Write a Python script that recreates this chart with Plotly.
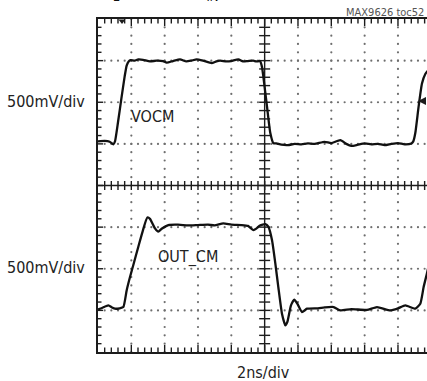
import plotly.graph_objects as go

# ---------------- data (time in ns, screen voltage in V; 2 ns/div, 0.5 V/div) ----------------
time_vocm_ns = [0.0, 0.4, 0.7, 0.92, 1.02, 1.2, 1.4, 1.6, 1.72, 1.84, 1.96, 2.2, 2.42, 2.7,
                3.12, 3.5, 3.9, 4.12, 4.5, 4.92, 5.3, 5.6, 5.92, 6.3, 6.82, 7.1, 7.32, 7.7,
                8.0, 8.42, 8.7, 9.0, 9.32, 9.5, 9.72, 9.84, 9.92, 10.14, 10.34, 10.52, 10.7,
                11.0, 11.4, 11.8, 12.2, 12.6, 13.0, 13.6, 14.0, 14.54, 14.9, 15.2, 15.6,
                16.0, 16.4, 16.8, 17.2, 17.6, 18.0, 18.4, 18.8, 18.92, 19.04, 19.24, 19.44,
                19.64, 19.8]
vocm_v = [0.53, 0.535, 0.525, 0.495, 0.53, 0.76, 1.04, 1.31, 1.44, 1.49, 1.505, 1.50, 1.515, 1.51,
          1.49, 1.50, 1.495, 1.475, 1.495, 1.515, 1.49, 1.50, 1.515, 1.50, 1.47, 1.49, 1.50, 1.49,
          1.495, 1.515, 1.49, 1.495, 1.50, 1.49, 1.495, 1.425, 1.31, 0.95, 0.63, 0.51, 0.505,
          0.49, 0.485, 0.50, 0.495, 0.505, 0.50, 0.525, 0.51, 0.545, 0.50, 0.475, 0.49,
          0.505, 0.495, 0.50, 0.485, 0.50, 0.51, 0.495, 0.505, 0.53, 0.63, 0.95, 1.225,
          1.34, 1.38]

time_out_ns = [0.0, 0.3, 0.62, 0.84, 1.02, 1.3, 1.52, 1.72, 1.92, 2.12, 2.42, 2.7, 2.96, 3.12,
               3.42, 3.62, 3.82, 4.22, 4.8, 5.4, 6.0, 6.6, 7.0, 7.52, 8.0, 8.6, 9.0, 9.32,
               9.52, 9.72, 10.04, 10.22, 10.44, 10.64, 10.82, 11.04, 11.24, 11.36, 11.58,
               11.78, 11.96, 12.24, 12.54, 13.2, 13.6, 14.14, 14.54, 15.2, 16.14, 16.74,
               17.54, 18.0, 18.44, 19.04, 19.34, 19.54, 19.74, 19.8]
outcm_v = [-1.49, -1.465, -1.44, -1.465, -1.48, -1.475, -1.46, -1.26, -1.10, -0.955, -0.735,
           -0.535, -0.385, -0.40, -0.515, -0.555, -0.52, -0.475, -0.47, -0.48, -0.475, -0.47,
           -0.48, -0.455, -0.47, -0.475, -0.485, -0.535, -0.515, -0.48, -0.465, -0.495,
           -0.655, -0.935, -1.22, -1.54, -1.68, -1.64, -1.44, -1.37, -1.42, -1.52, -1.48,
           -1.475, -1.465, -1.46, -1.50, -1.485, -1.495, -1.46, -1.50, -1.475, -1.44, -1.48,
           -1.42, -1.22, -1.055, -1.0]

trace_labels = ["VOCM", "OUT_CM"]
scale_labels = ["500mV/div", "500mV/div"]
time_label = "2ns/div"
figure_id = "MAX9626 toc52"

# ---------------- layout geometry ----------------
W, H = 427, 381
L, T, B = 98, 19, 29
PX_PER_DIV_X = 33.33
NS_PER_DIV = 2.0
V_PER_DIV = 0.5
plot_w = W - L
plot_h = H - T - B
x_max = plot_w / PX_PER_DIV_X * NS_PER_DIV
y_half = 4 * V_PER_DIV
ns_per_px = x_max / plot_w
v_per_px = 2 * y_half / plot_h

def px_x(px):
    return (px - L) / plot_w

def px_y(py):
    return (H - B - py) / plot_h

INK = "#1c1c1c"
FONT = "DejaVu Sans Condensed, Liberation Sans Narrow, Arial Narrow, sans-serif"

fig = go.Figure()

# dotted graticule
dx, dy = [], []
for k in range(1, 10):
    if k == 5:
        continue
    for j in range(0, 41):
        dx.append(k * NS_PER_DIV)
        dy.append(-y_half + j * 0.2 * V_PER_DIV)
for k in (-3, -2, -1, 1, 2, 3):
    for j in range(1, 50):
        xx = j * 0.2 * NS_PER_DIV
        if xx > x_max:
            break
        dx.append(xx)
        dy.append(k * V_PER_DIV)
fig.add_trace(go.Scatter(x=dx, y=dy, mode="markers",
                         marker=dict(size=2.2, color="#6e6e6e", line=dict(width=0)),
                         hoverinfo="skip", showlegend=False))

# centre axes and edge ticks
cx, cy = [], []
xc = 5 * NS_PER_DIV
cx += [0, x_max, None]
cy += [0, 0, None]
cx += [xc, xc, None]
cy += [-y_half, y_half, None]
tick_v = 4.5 * v_per_px
tick_h = 5.5 * ns_per_px
for j in range(1, 50):
    xx = j * 0.2 * NS_PER_DIV
    if xx > x_max:
        break
    major = (j % 5 == 0)
    cx += [xx, xx, None]
    cy += [-tick_v, tick_v, None]
    ln = (7 if major else 4.5) * v_per_px
    cx += [xx, xx, None, xx, xx, None]
    cy += [y_half, y_half - ln, None, -y_half, -y_half + ln, None]
for j in range(1, 40):
    yy = -y_half + j * 0.2 * V_PER_DIV
    cx += [xc - tick_h, xc + tick_h, None]
    cy += [yy, yy, None]
    ln = (5 if j % 5 == 0 else 3.5) * ns_per_px
    cx += [0, ln, None]
    cy += [yy, yy, None]
fig.add_trace(go.Scatter(x=cx, y=cy, mode="lines", line=dict(color=INK, width=1.4),
                         hoverinfo="skip", showlegend=False, connectgaps=False))

# waveforms
fig.add_trace(go.Scatter(x=time_vocm_ns, y=vocm_v, mode="lines", name=trace_labels[0],
                         line=dict(color="#111111", width=2.3, shape="spline", smoothing=0.5),
                         showlegend=False))
fig.add_trace(go.Scatter(x=time_out_ns, y=outcm_v, mode="lines", name=trace_labels[1],
                         line=dict(color="#111111", width=2.3, shape="spline", smoothing=0.5),
                         showlegend=False))

# trigger marker (top)
fig.add_trace(go.Scatter(x=[0.72 * NS_PER_DIV], y=[y_half - 2 * v_per_px], mode="markers",
                         marker=dict(symbol="triangle-down", size=6, color=INK),
                         cliponaxis=False, hoverinfo="skip", showlegend=False))

annotations = [
    dict(x=px_x(46), y=px_y(101.5), text=scale_labels[0]),
    dict(x=px_x(46), y=px_y(267.5), text=scale_labels[1]),
    dict(x=px_x(152.5), y=px_y(116), text=trace_labels[0]),
    dict(x=px_x(187.5), y=px_y(257), text=trace_labels[1]),
    dict(x=px_x(263.5), y=px_y(372), text=time_label),
]
for a in annotations:
    fig.add_annotation(xref="paper", yref="paper", x=a["x"], y=a["y"], text=a["text"],
                       showarrow=False, xanchor="center", yanchor="middle",
                       font=dict(family=FONT, size=16, color="#222222"))
fig.add_annotation(xref="paper", yref="paper", x=px_x(426), y=px_y(13), text=figure_id,
                   showarrow=False, xanchor="right", yanchor="middle",
                   font=dict(family=FONT, size=11, color="#555555"))
fig.add_annotation(xref="paper", yref="paper", x=px_x(418), y=px_y(101), ax=9, ay=0,
                   text="", showarrow=True, arrowhead=2, arrowsize=1, arrowwidth=1.6,
                   arrowcolor=INK)
# clipped title line (only its lower edge is visible in the original)
fig.add_annotation(xref="paper", yref="paper", x=px_x(93), y=px_y(6),
                   text="(R<sub>L</sub> = 500Ω)  V<sub>IN</sub> = 0V",
                   showarrow=False, xanchor="left", yanchor="bottom",
                   font=dict(family="Liberation Sans, Arial, sans-serif", size=17, color="#111"))

fig.update_layout(
    width=W, height=H,
    margin=dict(l=L, r=0, t=T, b=B, pad=0),
    paper_bgcolor="white", plot_bgcolor="white",
    showlegend=False,
)
fig.update_xaxes(range=[0, x_max], showgrid=False, zeroline=False, showticklabels=False,
                 showline=True, linewidth=2, linecolor=INK, mirror=True, ticks="")
fig.update_yaxes(range=[-y_half, y_half], showgrid=False, zeroline=False, showticklabels=False,
                 showline=True, linewidth=2, linecolor=INK, mirror=False, ticks="")

fig.write_html("out.html", config={"displayModeBar": False, "staticPlot": True},
               post_script="document.body.style.margin='0px';document.body.style.overflow='hidden';")
